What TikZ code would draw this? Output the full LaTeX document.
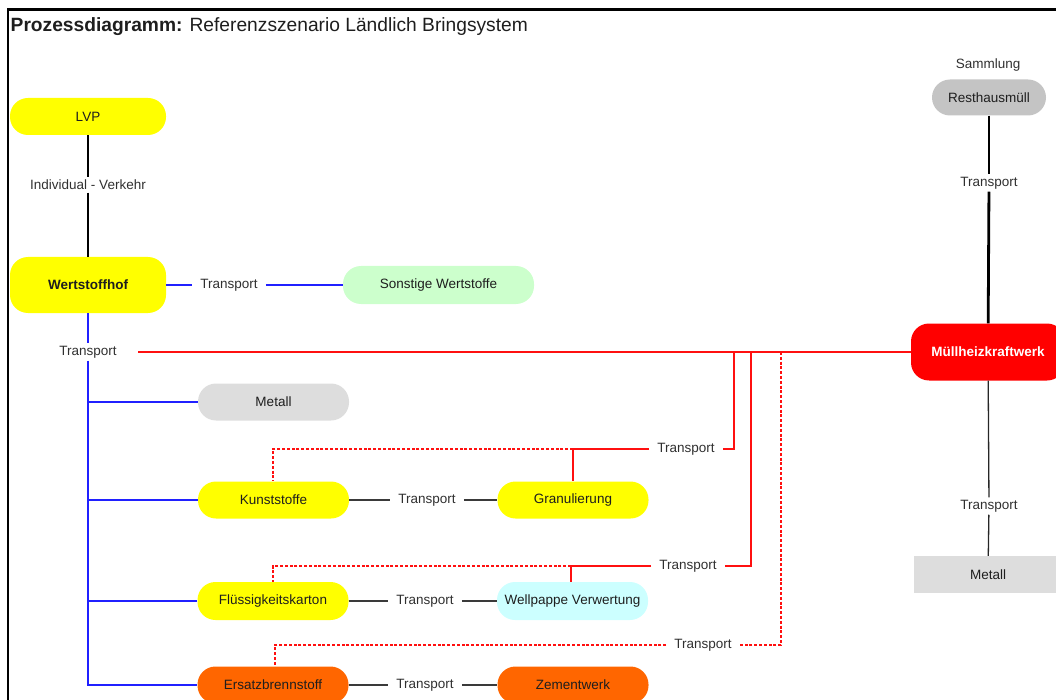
\documentclass[tikz,border=0pt]{standalone}
\usepackage{fontspec}
\setmainfont{Liberation Sans}
\definecolor{boxyellow}{HTML}{FFFF00}
\definecolor{boxgreen}{HTML}{CCFFCC}
\definecolor{boxcyan}{HTML}{CCFFFF}
\definecolor{boxorange}{HTML}{FF6600}
\definecolor{boxgray}{HTML}{DDDDDD}
\definecolor{boxgraydark}{HTML}{C4C4C4}
\definecolor{boxred}{HTML}{FF0000}
\definecolor{txtdark}{HTML}{1E1E1E}
\definecolor{txtgray}{HTML}{303030}
\definecolor{lineblue}{HTML}{2020FF}
\definecolor{linered}{HTML}{FF1010}
\definecolor{linegray}{HTML}{3A3A3A}
\begin{document}
\begin{tikzpicture}[x=1pt,y=-1pt,
  txt/.style={font=\fontsize{13.5}{16}\selectfont},
  lbl/.style={txt, text=txtgray, inner xsep=8pt, inner ysep=2.5pt},
  box/.style={txt, text=txtdark, rounded corners=18pt, minimum height=37pt,
              minimum width=151pt, inner sep=0pt},
  bigbox/.style={box, minimum height=56pt, minimum width=156pt, font=\fontsize{13.5}{16}\selectfont\bfseries},
  blueline/.style={lineblue, line width=2pt},
  bluetrunk/.style={lineblue, line width=2.2pt},
  redline/.style={linered, line width=1.6pt},
  reddots/.style={linered, line width=2pt, dash pattern=on 3pt off 1.8pt},
  grayline/.style={linegray, line width=2pt},
  blackthick/.style={black, line width=2.8pt},
  blackthin/.style={black!85, line width=1.3pt}
]
\useasboundingbox (0,0) rectangle (1056,700);
\clip (0,0) rectangle (1056,700);

% frame and heading
\draw[line width=2.4pt] (8,702) -- (8,9.5) -- (1060,9.5);
\node[anchor=base west, inner sep=0pt, font=\fontsize{19.2}{22}\selectfont, text=txtdark]
  (title) at (10.5,32) {\textbf{Prozessdiagramm:} Referenzszenario Ländlich Bringsystem};

% left column
\node[box, fill=boxyellow, minimum width=156pt] (lvp) at (88,116.5) {LVP};
\node[bigbox, fill=boxyellow] (wsh) at (88,285) {Wertstoffhof};
\node[box, fill=boxgreen, minimum width=191pt, minimum height=38pt] (sonst) at (438.5,285) {Sonstige Wertstoffe};
\node[box, fill=boxgray] (metA) at (273.5,402) {Metall};
\node[box, fill=boxyellow] (kunst) at (273.5,500) {Kunststoffe};
\node[box, fill=boxyellow] (granu) at (573,500) {Granulierung};
\node[box, fill=boxyellow, minimum height=38pt] (fluess) at (273,601) {Flüssigkeitskarton};
\node[box, fill=boxcyan, minimum height=38pt] (wellp) at (572.5,601) {Wellpappe Verwertung};
\node[box, fill=boxorange] (ersatz) at (273,685) {Ersatzbrennstoff};
\node[box, fill=boxorange] (zement) at (573,685) {Zementwerk};

% right column
\node[txt, text=txtgray] (samml) at (988,65) {Sammlung};
\node[box, fill=boxgraydark, minimum width=114pt, minimum height=36pt] (rest) at (989,97.5) {Resthausmüll};
\node[bigbox, fill=boxred, text=white, minimum width=154pt, minimum height=57pt] (mhkw) at (988,352) {Müllheizkraftwerk};
\node[txt, text=txtdark, fill=boxgray, minimum width=148pt, minimum height=37pt, inner sep=0pt] (metB) at (988,574.5) {Metall};

% transport labels
\node[lbl, inner xsep=2pt] (tInd) at (88,185) {Individual - Verkehr};
\node[lbl] (tSon) at (229,285) {Transport};
\node[lbl] (tWsh) at (88,352) {Transport};
\node[lbl] (tKG) at (427,500) {Transport};
\node[lbl] (tFW) at (425,601) {Transport};
\node[lbl] (tEZ) at (425,685) {Transport};
\node[lbl] (tR1) at (686,449) {Transport};
\node[lbl] (tR2) at (688,566) {Transport};
\node[lbl] (tR3) at (703,645) {Transport};
\node[lbl] (tRest) at (989,183) {Transport};
\node[lbl] (tMet) at (989,506) {Transport};

% collection and drop-off
\draw[blackthick] (lvp) -- (tInd);
\draw[blackthick] (tInd) -- (wsh);
\draw[blueline] (wsh) -- (tSon);
\draw[blueline] (tSon) -- (sonst);

% distribution from the recycling yard
\coordinate (bEnd) at (88,685);
\draw[bluetrunk] (wsh) -- (tWsh);
\draw[bluetrunk] (tWsh) -- (bEnd) -- (ersatz);
\draw[blueline] (metA -| bEnd) -- (metA);
\draw[blueline] (kunst -| bEnd) -- (kunst);
\draw[blueline] (fluess -| bEnd) -- (fluess);

% transport between processing steps
\draw[grayline] (kunst) -- (tKG);
\draw[grayline] (tKG) -- (granu);
\draw[grayline] (fluess) -- (tFW);
\draw[grayline] (tFW) -- (wellp);
\draw[grayline] (ersatz) -- (tEZ);
\draw[grayline] (tEZ) -- (zement);

% residual waste to the incineration plant
\draw[blackthick] (rest) -- (tRest);
\draw[blackthick] (tRest) -- (mhkw);
\draw[blackthin] (mhkw) -- (tMet);
\draw[blackthin] (tMet) -- (metB);

% residues back to the incineration plant
\coordinate (rStart) at (138,352);
\draw[redline] (rStart) -- (mhkw);

\coordinate (j1) at (734,352);
\coordinate (c1) at (734,449);
\coordinate (g1) at (573,449);
\coordinate (k1) at (273,449);
\draw[redline] (j1) -- (c1) -- (tR1);
\draw[redline] (tR1) -- (g1) -- (granu.north);
\draw[reddots] (g1) -- (k1) -- (k1 |- kunst.north);

\coordinate (j2) at (751,352);
\coordinate (c2) at (751,566);
\coordinate (g2) at (571,566);
\coordinate (k2) at (273,566);
\draw[redline] (j2) -- (c2) -- (tR2);
\draw[redline] (tR2) -- (g2) -- (g2 |- wellp.north);
\draw[reddots] (g2) -- (k2) -- (k2 |- fluess.north);

\coordinate (j3) at (781,352);
\coordinate (c3) at (781,645);
\coordinate (k3) at (275,645);
\draw[reddots] (j3) -- (c3) -- (tR3);
\draw[reddots] (tR3) -- (k3) -- (k3 |- ersatz.north);
\end{tikzpicture}
\end{document}
